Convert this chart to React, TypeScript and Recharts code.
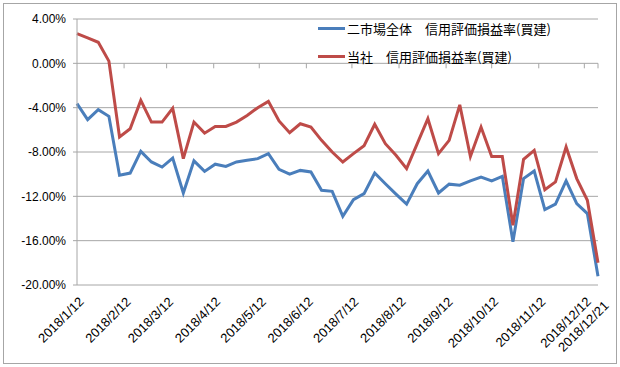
import React from 'react';
import {
  LineChart,
  Line,
  XAxis,
  YAxis,
  CartesianGrid,
  ReferenceLine,
  Legend,
} from 'recharts';

// weekly closing dates (Fridays)
const weeks = [
  '2018/1/12', '2018/1/19', '2018/1/26', '2018/2/2', '2018/2/9', '2018/2/16', '2018/2/23',
  '2018/3/2', '2018/3/9', '2018/3/16', '2018/3/23', '2018/3/30', '2018/4/6', '2018/4/13',
  '2018/4/20', '2018/4/27', '2018/5/4', '2018/5/11', '2018/5/18', '2018/5/25', '2018/6/1',
  '2018/6/8', '2018/6/15', '2018/6/22', '2018/6/29', '2018/7/6', '2018/7/13', '2018/7/20',
  '2018/7/27', '2018/8/3', '2018/8/10', '2018/8/17', '2018/8/24', '2018/8/31', '2018/9/7',
  '2018/9/14', '2018/9/21', '2018/9/28', '2018/10/5', '2018/10/12', '2018/10/19', '2018/10/26',
  '2018/11/2', '2018/11/9', '2018/11/16', '2018/11/23', '2018/11/30', '2018/12/7', '2018/12/14',
  '2018/12/21',
];

// 二市場全体 信用評価損益率(買建), %
const marketRate = [
  -3.64, -5.08, -4.18, -4.78, -10.1, -9.9, -7.94, -8.9, -9.36, -8.55,
  -11.7, -8.8, -9.75, -9.1, -9.3, -8.9, -8.75, -8.6, -8.15, -9.57,
  -10.0, -9.66, -9.8, -11.46, -11.55, -13.8, -12.3, -11.76, -9.9, -10.86,
  -11.8, -12.7, -10.86, -9.72, -11.7, -10.9, -11.0, -10.6, -10.26, -10.6,
  -10.2, -16.1, -10.4, -9.72, -13.2, -12.7, -10.6, -12.66, -13.56, -19.2,
];

// 当社 信用評価損益率(買建), %
const companyRate = [
  2.68, 2.3, 1.9, 0.2, -6.65, -5.9, -3.34, -5.3, -5.3, -4.06,
  -8.6, -5.3, -6.3, -5.7, -5.7, -5.3, -4.7, -4.0, -3.43, -5.2,
  -6.26, -5.45, -5.75, -6.95, -8.0, -8.9, -8.15, -7.43, -5.5, -7.25,
  -8.3, -9.5, -7.25, -5.0, -8.15, -6.95, -3.75, -8.4, -5.75, -8.4,
  -8.4, -14.6, -8.66, -7.85, -11.4, -10.7, -7.55, -10.4, -12.36, -18.0,
];

const xTickLabels = [
  '2018/1/12', '2018/2/12', '2018/3/12', '2018/4/12', '2018/5/12', '2018/6/12', '2018/7/12',
  '2018/8/12', '2018/9/12', '2018/10/12', '2018/11/12', '2018/12/12', '2018/12/21',
];

const yTicks = [-20, -16, -12, -8, -4, 0, 4];

const MARKET_NAME = '二市場全体　信用評価損益率(買建)';
const COMPANY_NAME = '当社　信用評価損益率(買建)';
const BLUE = '#4A7EBB';
const RED = '#BE4B48';
const GRID = '#a6a6a6';
const FONT = '"Liberation Sans", Arial, sans-serif';

const toTime = (s: string) => {
  const [y, m, d] = s.split('/').map(Number);
  return Date.UTC(y, m - 1, d);
};

const data = weeks.map((w, i) => ({
  t: toTime(w),
  market: marketRate[i],
  company: companyRate[i],
}));

const xTicks = xTickLabels.map(toTime);
const labelByTime = new Map(xTicks.map((t, i) => [t, xTickLabels[i]]));
const lastTick = xTicks[xTicks.length - 1];

function DateTick({ x, y, payload }: any) {
  const label = labelByTime.get(payload.value) ?? '';
  // excel nudges the crowded last label down a little
  const nudge = payload.value === lastTick ? 4 : 0;
  const ax = x + 7.5 + nudge;
  const ay = y + 17.5 + nudge;
  return (
    <text
      x={ax}
      y={ay}
      transform={`rotate(-45, ${ax}, ${ay})`}
      textAnchor="end"
      fontSize={13}
      fontFamily={FONT}
      fill="#000"
    >
      {label}
    </text>
  );
}

function LegendBox() {
  const rows = [
    { name: MARKET_NAME, color: BLUE },
    { name: COMPANY_NAME, color: RED },
  ];
  return (
    <div style={{ fontFamily: '"Noto Sans CJK JP", sans-serif', fontSize: 13, color: '#000' }}>
      {rows.map((r) => (
        <div
          key={r.name}
          style={{ display: 'flex', alignItems: 'center', height: 27.5, whiteSpace: 'nowrap' }}
        >
          <span style={{ width: 27, height: 3, background: r.color, marginRight: 2 }} />
          <span>{r.name}</span>
        </div>
      ))}
    </div>
  );
}

export default function App() {
  return (
    <div style={{ position: 'absolute', left: 0, top: 0, width: 620, height: 367, background: '#fff' }}>
      <div
        style={{
          position: 'absolute',
          left: 3,
          top: 3,
          width: 612,
          height: 359,
          border: `1px solid ${GRID}`,
        }}
      />
      <LineChart
        width={620}
        height={367}
        data={data}
        margin={{ top: 19, right: 22, left: 0, bottom: 0 }}
      >
        <CartesianGrid vertical={false} stroke={GRID} />
        <XAxis
          type="number"
          dataKey="t"
          domain={[xTicks[0], lastTick]}
          ticks={xTicks}
          interval={0}
          axisLine={false}
          tickLine={false}
          tickSize={0}
          tickMargin={0}
          height={82}
          tick={<DateTick />}
        />
        <YAxis
          domain={[-20, 4]}
          ticks={yTicks}
          interval={0}
          width={77}
          tickSize={4}
          tickMargin={7}
          axisLine={{ stroke: GRID }}
          tickLine={{ stroke: GRID }}
          tick={{ fontSize: 12, fill: '#000', fontFamily: FONT }}
          tickFormatter={(v: number) => `${v.toFixed(2)}%`}
        />
        {xTicks.slice(1).map((t) => (
          <ReferenceLine
            key={t}
            segment={[
              { x: t, y: 0 },
              { x: t, y: -0.45 },
            ]}
            stroke={GRID}
          />
        ))}
        <Legend
          layout="vertical"
          align="center"
          verticalAlign="middle"
          content={() => <LegendBox />}
          wrapperStyle={{ left: 318, top: 15, width: 260 }}
        />
        <Line
          type="linear"
          dataKey="market"
          name={MARKET_NAME}
          stroke={BLUE}
          strokeWidth={3}
          dot={false}
          isAnimationActive={false}
        />
        <Line
          type="linear"
          dataKey="company"
          name={COMPANY_NAME}
          stroke={RED}
          strokeWidth={3}
          dot={false}
          isAnimationActive={false}
        />
      </LineChart>
    </div>
  );
}
